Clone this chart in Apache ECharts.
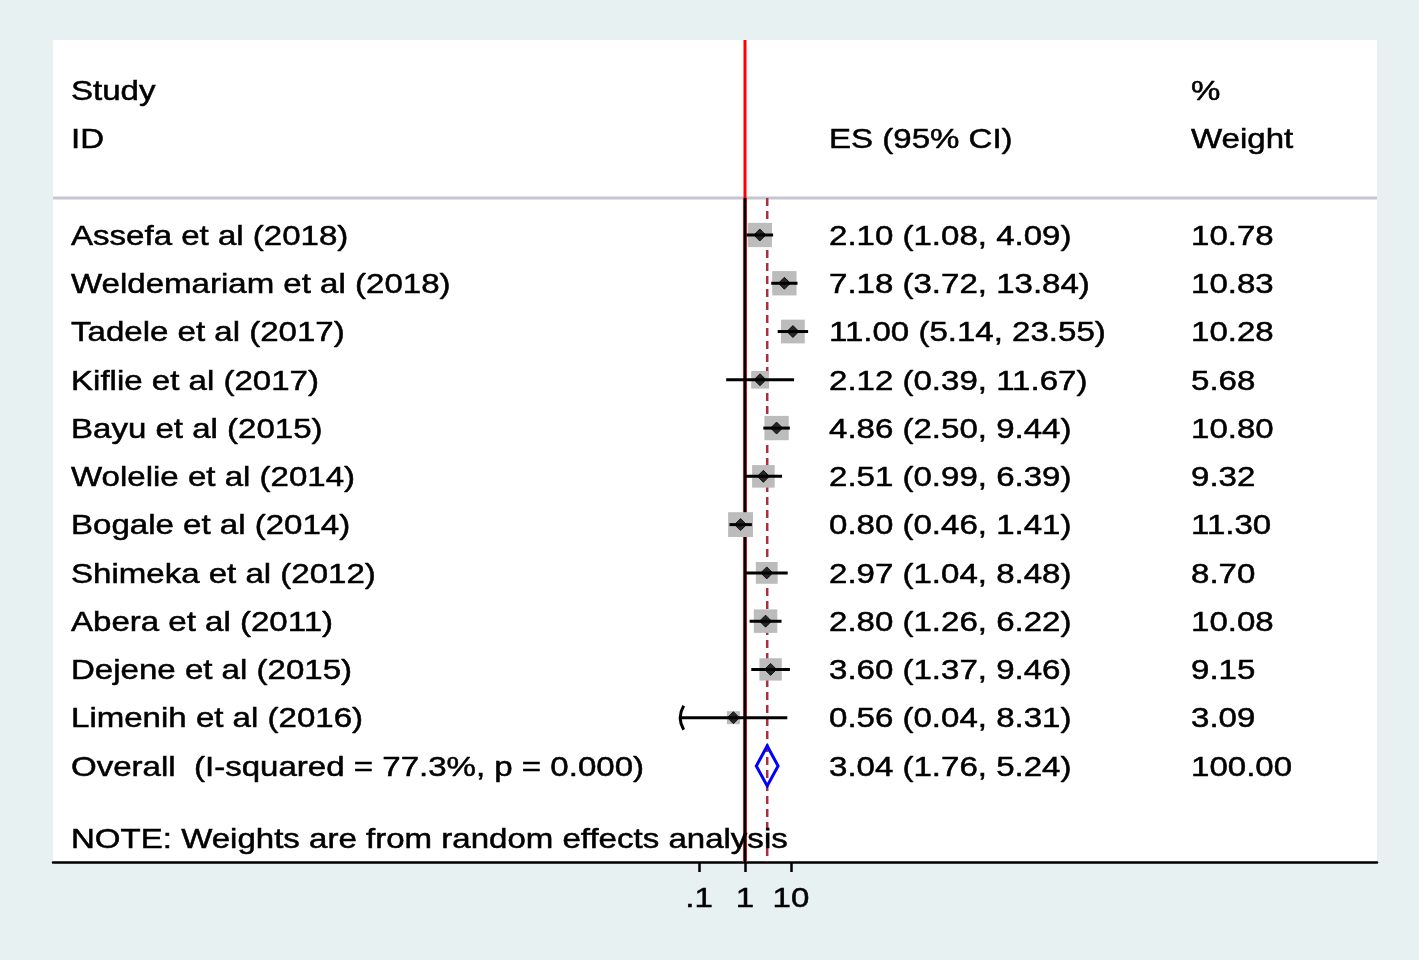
<!DOCTYPE html>
<html><head><meta charset="utf-8">
<script src="https://cdn.jsdelivr.net/npm/echarts@6/dist/echarts.min.js"></script>
<style>html,body{margin:0;padding:0;background:#e8f1f1;}#c{width:1419px;height:960px;}</style>
</head><body><div id="c"></div>
<script>
const studies = ['Assefa et al (2018)','Weldemariam et al (2018)','Tadele et al (2017)','Kiflie et al (2017)','Bayu et al (2015)','Wolelie et al (2014)','Bogale et al (2014)','Shimeka et al (2012)','Abera et al (2011)','Dejene et al (2015)','Limenih et al (2016)'];
const es      = [2.10, 7.18, 11.00, 2.12, 4.86, 2.51, 0.80, 2.97, 2.80, 3.60, 0.56];
const ciLow   = [1.08, 3.72, 5.14, 0.39, 2.50, 0.99, 0.46, 1.04, 1.26, 1.37, 0.04];
const ciHigh  = [4.09, 13.84, 23.55, 11.67, 9.44, 6.39, 1.41, 8.48, 6.22, 9.46, 8.31];
const weights = [10.78, 10.83, 10.28, 5.68, 10.80, 9.32, 11.30, 8.70, 10.08, 9.15, 3.09];
const overallLabel = 'Overall  (I-squared = 77.3%, p = 0.000)';
const overall = {es: 3.04, lo: 1.76, hi: 5.24, weight: 100.00};
const noteText = 'NOTE: Weights are from random effects analysis';
const headerLeft = ['Study', 'ID'];
const headerES = 'ES (95% CI)';
const headerW = ['%', 'Weight'];
const tickValues = [0.1, 1, 10];
const tickLabels = ['.1', '1', '10'];
const nullValue = 1;
const arrowBelow = 0.05;

const FAMILY = '"Liberation Sans", Arial, sans-serif';
const FONT = '28px ' + FAMILY;
const SX = 1.18;
const PX_PER_DEC = 46;
const ZERO_PX = 745 - 53, PLOT_W = 1324;
const logMin = -ZERO_PX / PX_PER_DEC, logMax = (PLOT_W - ZERO_PX) / PX_PER_DEC;
const rowTop = -4.04, rowBottom = 12.99, sepRow = -0.767;
const n = studies.length;
const colStudy = 18 / PLOT_W, colES = 776 / PLOT_W, colW = 1138 / PLOT_W;

const fmt = v => v.toFixed(2);
const textItems = [];
textItems.push({x: colStudy, r: -3, t: headerLeft[0]});
textItems.push({x: colStudy, r: -2, t: headerLeft[1]});
textItems.push({x: colES, r: -2, t: headerES});
textItems.push({x: colW, r: -3, t: headerW[0]});
textItems.push({x: colW, r: -2, t: headerW[1]});
studies.forEach((s, i) => {
  textItems.push({x: colStudy, r: i, t: s});
  textItems.push({x: colES, r: i, t: `${fmt(es[i])} (${fmt(ciLow[i])}, ${fmt(ciHigh[i])})`});
  textItems.push({x: colW, r: i, t: fmt(weights[i])});
});
textItems.push({x: colStudy, r: n, t: overallLabel});
textItems.push({x: colES, r: n, t: `${fmt(overall.es)} (${fmt(overall.lo)}, ${fmt(overall.hi)})`});
textItems.push({x: colW, r: n, t: fmt(overall.weight)});
textItems.push({x: colStudy, r: n + 1.5, t: noteText});

const chart = echarts.init(document.getElementById('c'), null, {renderer: 'canvas'});
const opt = {
  backgroundColor: '#e8f1f1',
  animation: false,
  grid: {left: 53, right: 42, top: 40, bottom: 98, show: true, backgroundColor: '#ffffff', borderWidth: 0},
  xAxis: [
    {type: 'log', min: Math.pow(10, logMin), max: Math.pow(10, logMax), position: 'bottom',
     axisLine: {show: true, onZero: false, lineStyle: {color: '#000', width: 2.5}},
     axisTick: {show: true, customValues: tickValues, length: 10, lineStyle: {color: '#000', width: 2.5}},
     axisLabel: {show: false, customValues: tickValues},
     splitLine: {show: false}},
    {type: 'value', min: 0, max: 1, show: false}
  ],
  yAxis: {type: 'value', inverse: true, min: rowTop, max: rowBottom, show: false},
  series: [
    // header separator
    {type: 'custom', xAxisIndex: 1, data: [[0, sepRow, 1]], silent: true, z: 1,
     renderItem: (p, api) => { const a = api.coord([api.value(0), api.value(1)]), b = api.coord([api.value(2), api.value(1)]);
       return {type: 'line', shape: {x1: a[0], y1: a[1], x2: b[0], y2: b[1]}, style: {stroke: '#c6c6d2', lineWidth: 3}}; }},
    // null line: red in header, red-edged black below
    {type: 'custom', xAxisIndex: 0, data: [[nullValue, rowTop, rowBottom]], silent: true, z: 2,
     renderItem: (p, api) => { const a = api.coord([api.value(0), api.value(1)]), m = api.coord([api.value(0), sepRow]), b = api.coord([api.value(0), api.value(2)]);
       return {type: 'group', children: [
         {type: 'line', shape: {x1: a[0], y1: a[1], x2: m[0], y2: m[1]}, style: {stroke: '#ff0000', lineWidth: 3}},
         {type: 'line', shape: {x1: m[0], y1: m[1], x2: b[0], y2: b[1]}, style: {stroke: '#b02020', lineWidth: 4}},
         {type: 'line', shape: {x1: m[0], y1: m[1], x2: b[0], y2: b[1]}, style: {stroke: '#000000', lineWidth: 2}}
       ]}; }},
    // overall dashed line
    {type: 'custom', xAxisIndex: 0, data: [[overall.es, sepRow, rowBottom]], silent: true, z: 2,
     renderItem: (p, api) => { const a = api.coord([api.value(0), api.value(1)]), b = api.coord([api.value(0), api.value(2)]);
       return {type: 'line', shape: {x1: a[0], y1: a[1], x2: b[0], y2: b[1]}, style: {stroke: '#a8303e', lineWidth: 2.5, lineDash: [8, 5]}}; }},
    // weight boxes
    {type: 'scatter', xAxisIndex: 0, z: 3, silent: true,
     data: es.map((v, i) => ({value: [v, i], symbolSize: Math.sqrt(weights[i]) * 7.4})),
     symbol: 'rect', itemStyle: {color: '#bcbcbc', opacity: 1}},
    // CI lines
    {type: 'custom', xAxisIndex: 0, z: 4, silent: true,
     data: es.map((v, i) => [ciLow[i], ciHigh[i], i]),
     renderItem: (p, api) => { const a = api.coord([api.value(0), api.value(2)]), b = api.coord([api.value(1), api.value(2)]);
       const ch = [{type: 'line', shape: {x1: a[0], y1: a[1], x2: b[0], y2: b[1]}, style: {stroke: '#000', lineWidth: 3}}];
       if (api.value(0) < arrowBelow) {
         ch.push({type: 'bezierCurve', shape: {x1: a[0] + 3, y1: a[1] - 12, x2: a[0] + 3, y2: a[1] + 12, cpx1: a[0] - 4, cpy1: a[1]}, style: {stroke: '#000', lineWidth: 3, fill: null}});
       }
       return {type: 'group', children: ch}; }},
    // point estimates
    {type: 'scatter', xAxisIndex: 0, z: 5, silent: true, symbol: 'diamond', symbolSize: [12, 12],
     data: es.map((v, i) => [v, i]), itemStyle: {color: '#000', borderColor: '#000', borderWidth: 1}},
    // overall diamond
    {type: 'custom', xAxisIndex: 0, z: 5, silent: true,
     data: [[overall.lo, overall.es, overall.hi, n]],
     renderItem: (p, api) => { const l = api.coord([api.value(0), api.value(3)]), c = api.coord([api.value(1), api.value(3)]), r = api.coord([api.value(2), api.value(3)]);
       const h = 20;
       return {type: 'polygon', shape: {points: [[l[0], l[1]], [c[0], c[1] - h], [r[0], r[1]], [c[0], c[1] + h]]}, style: {stroke: '#0000ff', lineWidth: 3, fill: 'rgba(0,0,0,0)'}}; }},
    // texts
    {type: 'custom', xAxisIndex: 1, z: 6, silent: true,
     data: textItems.map(t => [t.x, t.r]),
     renderItem: (p, api) => { const c = api.coord([api.value(0), api.value(1)]);
       return {type: 'text', x: c[0], y: c[1] + 2, scaleX: SX, style: {text: textItems[p.dataIndex].t, font: FONT, fill: '#000', stroke: '#000', lineWidth: 0.5, align: 'left', verticalAlign: 'middle'}}; }},
    // tick labels
    {type: 'custom', xAxisIndex: 0, z: 6, silent: true,
     data: tickValues.map(v => [v, rowBottom]),
     renderItem: (p, api) => { const c = api.coord([api.value(0), api.value(1)]);
       return {type: 'text', x: c[0], y: c[1] + 37, scaleX: SX, style: {text: tickLabels[p.dataIndex], font: FONT, fill: '#000', stroke: '#000', lineWidth: 0.5, align: 'center', verticalAlign: 'middle'}}; }}
  ]
};
chart.setOption(opt);
</script></body></html>
